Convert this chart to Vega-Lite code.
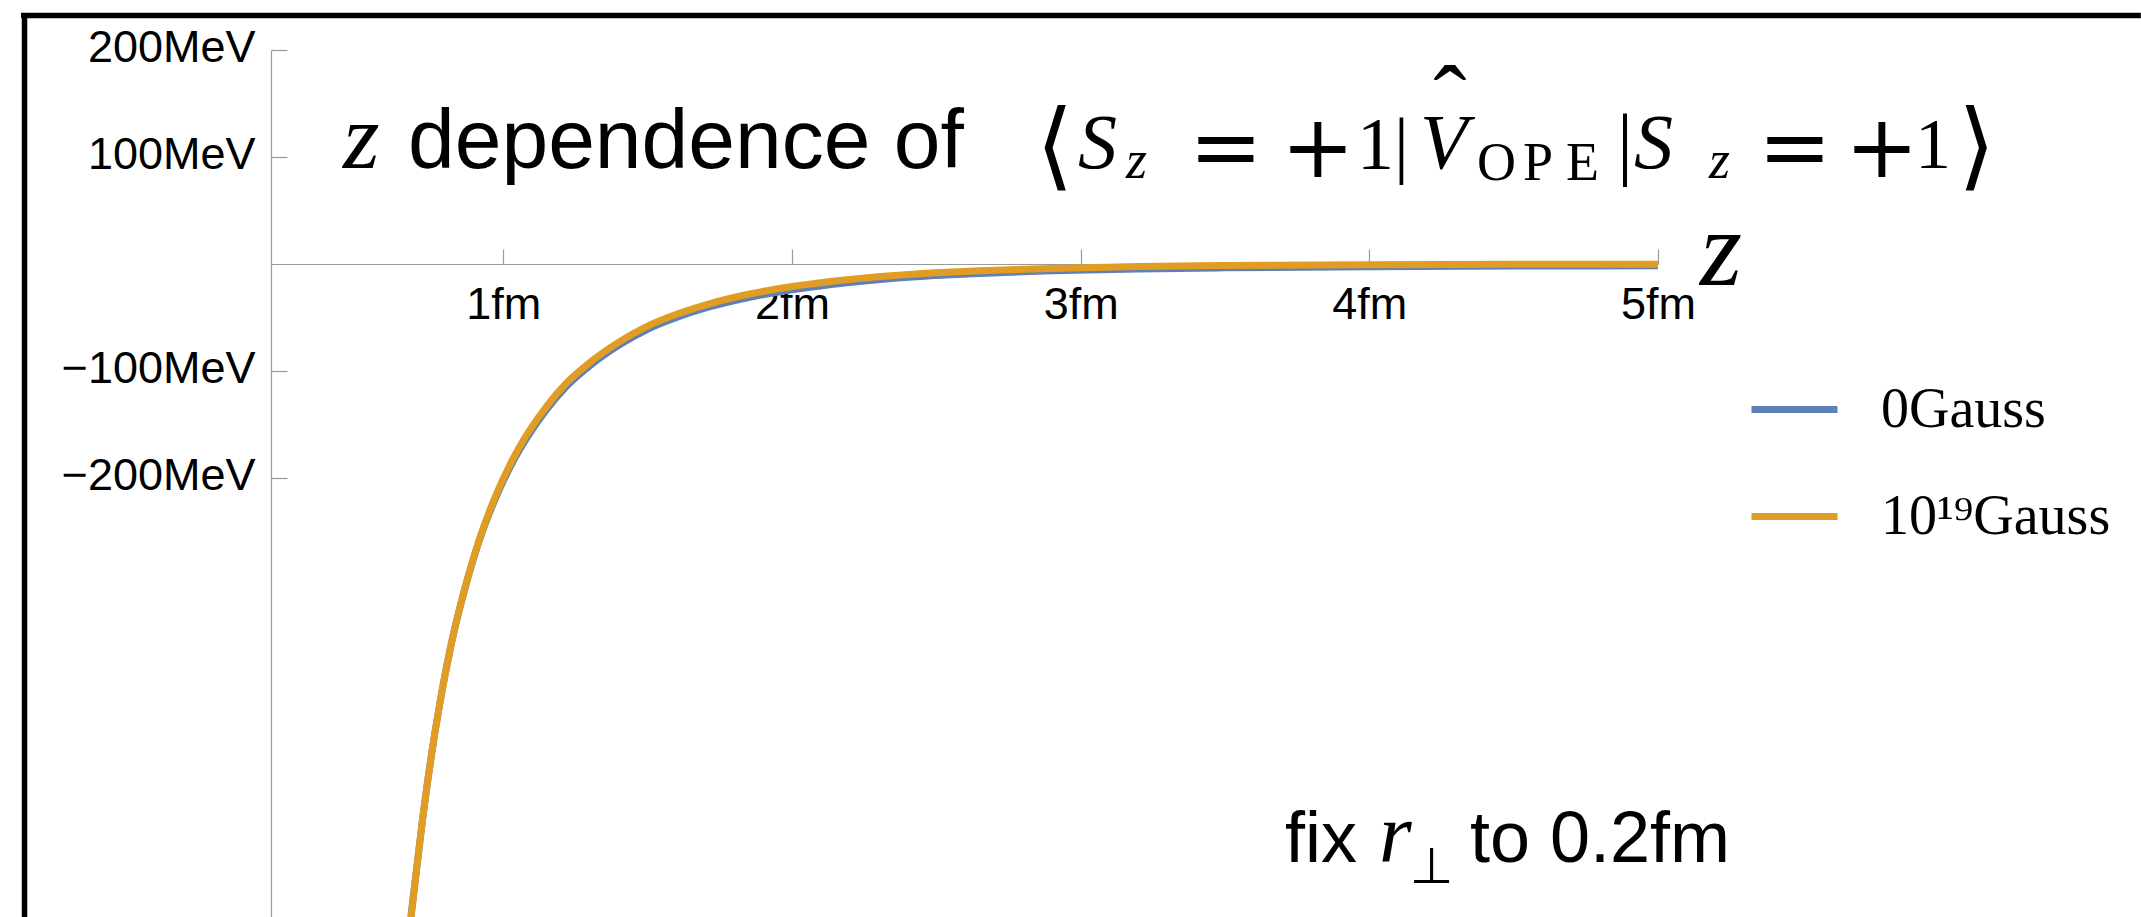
{
  "$schema": "https://vega.github.io/schema/vega-lite/v6.json",
  "autosize": {"type": "none"},
  "width": 1387,
  "height": 867,
  "padding": {"left": 271, "top": 50, "right": 483, "bottom": 0},
  "background": "white",
  "config": {"view": {"stroke": null}, "font": "Liberation Sans"},
  "data": {"values": [{}]},
  "datasets": {
    "curves": [
      {"z": 0.68, "V": -610, "series": "0Gauss"},
      {"z": 0.70, "V": -565, "series": "0Gauss"},
      {"z": 0.72, "V": -520, "series": "0Gauss"},
      {"z": 0.75, "V": -461, "series": "0Gauss"},
      {"z": 0.78, "V": -411, "series": "0Gauss"},
      {"z": 0.82, "V": -355, "series": "0Gauss"},
      {"z": 0.87, "V": -300.5, "series": "0Gauss"},
      {"z": 0.92, "V": -256, "series": "0Gauss"},
      {"z": 0.97, "V": -221, "series": "0Gauss"},
      {"z": 1.03, "V": -186.5, "series": "0Gauss"},
      {"z": 1.09, "V": -159, "series": "0Gauss"},
      {"z": 1.15, "V": -136, "series": "0Gauss"},
      {"z": 1.22, "V": -114, "series": "0Gauss"},
      {"z": 1.30, "V": -95, "series": "0Gauss"},
      {"z": 1.40, "V": -76, "series": "0Gauss"},
      {"z": 1.50, "V": -61, "series": "0Gauss"},
      {"z": 1.60, "V": -50, "series": "0Gauss"},
      {"z": 1.72, "V": -39.7, "series": "0Gauss"},
      {"z": 1.85, "V": -31.3, "series": "0Gauss"},
      {"z": 2.00, "V": -24.1, "series": "0Gauss"},
      {"z": 2.20, "V": -17.2, "series": "0Gauss"},
      {"z": 2.43, "V": -11.9, "series": "0Gauss"},
      {"z": 2.65, "V": -8.8, "series": "0Gauss"},
      {"z": 2.90, "V": -6.4, "series": "0Gauss"},
      {"z": 3.20, "V": -4.6, "series": "0Gauss"},
      {"z": 3.50, "V": -3.55, "series": "0Gauss"},
      {"z": 4.00, "V": -2.5, "series": "0Gauss"},
      {"z": 4.50, "V": -1.97, "series": "0Gauss"},
      {"z": 5.00, "V": -1.72, "series": "0Gauss"},
      {"z": 0.68, "V": -612, "series": "10¹⁹Gauss"},
      {"z": 0.70, "V": -565, "series": "10¹⁹Gauss"},
      {"z": 0.72, "V": -520, "series": "10¹⁹Gauss"},
      {"z": 0.75, "V": -461, "series": "10¹⁹Gauss"},
      {"z": 0.78, "V": -411, "series": "10¹⁹Gauss"},
      {"z": 0.82, "V": -355, "series": "10¹⁹Gauss"},
      {"z": 0.87, "V": -300, "series": "10¹⁹Gauss"},
      {"z": 0.92, "V": -255, "series": "10¹⁹Gauss"},
      {"z": 0.97, "V": -219, "series": "10¹⁹Gauss"},
      {"z": 1.03, "V": -184, "series": "10¹⁹Gauss"},
      {"z": 1.09, "V": -156, "series": "10¹⁹Gauss"},
      {"z": 1.15, "V": -133, "series": "10¹⁹Gauss"},
      {"z": 1.22, "V": -111, "series": "10¹⁹Gauss"},
      {"z": 1.30, "V": -92, "series": "10¹⁹Gauss"},
      {"z": 1.40, "V": -73, "series": "10¹⁹Gauss"},
      {"z": 1.50, "V": -58, "series": "10¹⁹Gauss"},
      {"z": 1.60, "V": -47, "series": "10¹⁹Gauss"},
      {"z": 1.72, "V": -36.7, "series": "10¹⁹Gauss"},
      {"z": 1.85, "V": -28.3, "series": "10¹⁹Gauss"},
      {"z": 2.00, "V": -21.1, "series": "10¹⁹Gauss"},
      {"z": 2.20, "V": -14.5, "series": "10¹⁹Gauss"},
      {"z": 2.43, "V": -9.4, "series": "10¹⁹Gauss"},
      {"z": 2.65, "V": -6.4, "series": "10¹⁹Gauss"},
      {"z": 2.90, "V": -4.1, "series": "10¹⁹Gauss"},
      {"z": 3.20, "V": -2.4, "series": "10¹⁹Gauss"},
      {"z": 3.50, "V": -1.45, "series": "10¹⁹Gauss"},
      {"z": 4.00, "V": -0.62, "series": "10¹⁹Gauss"},
      {"z": 4.50, "V": -0.27, "series": "10¹⁹Gauss"},
      {"z": 5.00, "V": -0.12, "series": "10¹⁹Gauss"}
    ]
  },
  "layer": [
    {
      "data": {"name": "curves"},
      "mark": {"type": "line", "strokeWidth": 7, "clip": true, "interpolate": "monotone", "strokeCap": "butt"},
      "encoding": {
        "x": {
          "field": "z", "type": "quantitative",
          "scale": {"domain": [0.1954, 5.0], "nice": false, "zero": false},
          "axis": {
            "orient": "bottom", "offset": -653, "values": [1, 2, 3, 4, 5],
            "labelExpr": "datum.value + 'fm'", "title": null, "grid": false,
            "domainColor": "#9a9a9a", "domainWidth": 1.2,
            "tickColor": "#9a9a9a", "tickWidth": 1.2, "tickSize": -15,
            "labelFont": "Liberation Sans", "labelFontSize": 45, "labelColor": "black",
            "labelBaseline": "alphabetic", "labelPadding": 69, "labelFlush": false,
            "labelOverlap": false, "labelLimit": 400
          }
        },
        "y": {
          "field": "V", "type": "quantitative",
          "scale": {"domain": [-610.28, 200], "nice": false, "zero": false},
          "axis": {
            "orient": "left", "values": [-200, -100, 100, 200],
            "labelExpr": "(datum.value < 0 ? '−' + (-datum.value) : '' + datum.value) + 'MeV'",
            "title": null, "grid": false,
            "domainColor": "#9a9a9a", "domainWidth": 1.2,
            "tickColor": "#9a9a9a", "tickWidth": 1.2, "tickSize": -16,
            "labelFont": "Liberation Sans", "labelFontSize": 45, "labelColor": "black",
            "labelBaseline": "alphabetic", "labelOffset": 11, "labelPadding": 32,
            "labelFlush": false, "labelOverlap": false, "labelLimit": 400
          }
        },
        "color": {
          "field": "series", "type": "nominal",
          "scale": {"domain": ["0Gauss", "10¹⁹Gauss"], "range": ["#5E81B5", "#E19C24"]},
          "legend": {
            "title": null, "orient": "none", "legendX": 1477, "legendY": 313, "padding": 0,
            "symbolType": "stroke", "symbolSize": 7396, "symbolStrokeWidth": 7,
            "labelFont": "Liberation Serif", "labelFontSize": 56, "labelColor": "black",
            "labelOffset": 40, "labelLimit": 600, "rowPadding": 32
          }
        }
      }
    },
    {
      "mark": {"type": "rule", "color": "black", "strokeWidth": 5.5},
      "encoding": {
        "x": {"datum": -0.6705, "type": "quantitative"},
        "x2": {"datum": 6.6726},
        "y": {"datum": 232.24, "type": "quantitative"}
      }
    },
    {
      "mark": {"type": "rule", "color": "black", "strokeWidth": 5.5},
      "encoding": {
        "x": {"datum": -0.6584, "type": "quantitative"},
        "y": {"datum": 234.6, "type": "quantitative"},
        "y2": {"datum": -610.28}
      }
    },
    {
      "mark": {"type": "text", "font": "Liberation Serif", "fontStyle": "italic", "fontSize": 94, "align": "left", "baseline": "alphabetic", "color": "black"},
      "encoding": {
        "x": {"datum": 0.4448, "type": "quantitative"},
        "y": {"datum": 89.72, "type": "quantitative"},
        "text": {"value": "z"}
      }
    },
    {
      "mark": {"type": "text", "font": "Liberation Sans", "fontSize": 84, "align": "left", "baseline": "alphabetic", "color": "black"},
      "encoding": {
        "x": {"datum": 0.6699, "type": "quantitative"},
        "y": {"datum": 89.72, "type": "quantitative"},
        "text": {"value": "dependence of"}
      }
    },
    {
      "mark": {"type": "text", "font": "DejaVu Sans", "fontSize": 96, "align": "left", "baseline": "alphabetic", "color": "black"},
      "encoding": {
        "x": {"datum": 2.8453, "type": "quantitative"},
        "y": {"datum": 80.5, "type": "quantitative"},
        "text": {"value": "⟨"}
      }
    },
    {
      "mark": {"type": "text", "font": "Liberation Serif", "fontStyle": "italic", "fontSize": 78, "align": "left", "baseline": "alphabetic", "color": "black"},
      "encoding": {
        "x": {"datum": 2.9907, "type": "quantitative"},
        "y": {"datum": 89.72, "type": "quantitative"},
        "text": {"value": "S"}
      }
    },
    {
      "mark": {"type": "text", "font": "Liberation Serif", "fontStyle": "italic", "fontSize": 54, "align": "left", "baseline": "alphabetic", "color": "black"},
      "encoding": {
        "x": {"datum": 3.157, "type": "quantitative"},
        "y": {"datum": 80.37, "type": "quantitative"},
        "text": {"value": "z"}
      }
    },
    {
      "mark": {"type": "text", "font": "DejaVu Serif", "fontSize": 88, "align": "left", "baseline": "alphabetic", "color": "black"},
      "encoding": {
        "x": {"datum": 3.3752, "type": "quantitative"},
        "y": {"datum": 81.31, "type": "quantitative"},
        "text": {"value": "="}
      }
    },
    {
      "mark": {"type": "text", "font": "DejaVu Serif", "fontSize": 88, "align": "left", "baseline": "alphabetic", "color": "black"},
      "encoding": {
        "x": {"datum": 3.6939, "type": "quantitative"},
        "y": {"datum": 81.31, "type": "quantitative"},
        "text": {"value": "+"}
      }
    },
    {
      "mark": {"type": "text", "font": "Liberation Serif", "fontSize": 74, "align": "left", "baseline": "alphabetic", "color": "black"},
      "encoding": {
        "x": {"datum": 3.9571, "type": "quantitative"},
        "y": {"datum": 88.5, "type": "quantitative"},
        "text": {"value": "1|"}
      }
    },
    {
      "mark": {"type": "text", "font": "Liberation Serif", "fontStyle": "italic", "fontSize": 78, "align": "left", "baseline": "alphabetic", "color": "black"},
      "encoding": {
        "x": {"datum": 4.1753, "type": "quantitative"},
        "y": {"datum": 89.72, "type": "quantitative"},
        "text": {"value": "V"}
      }
    },
    {
      "mark": {"type": "text", "font": "Liberation Serif", "fontSize": 100, "align": "center", "baseline": "alphabetic", "color": "black"},
      "encoding": {
        "x": {"datum": 4.2792, "type": "quantitative"},
        "y": {"datum": 121, "type": "quantitative"},
        "text": {"value": "ˆ"}
      }
    },
    {
      "mark": {"type": "text", "font": "Liberation Serif", "fontSize": 54, "align": "left", "baseline": "alphabetic", "color": "black"},
      "encoding": {
        "x": {"datum": 4.3727, "type": "quantitative"},
        "y": {"datum": 78.5, "type": "quantitative"},
        "text": {"value": "O"}
      }
    },
    {
      "mark": {"type": "text", "font": "Liberation Serif", "fontSize": 54, "align": "left", "baseline": "alphabetic", "color": "black"},
      "encoding": {
        "x": {"datum": 4.5321, "type": "quantitative"},
        "y": {"datum": 78.5, "type": "quantitative"},
        "text": {"value": "P"}
      }
    },
    {
      "mark": {"type": "text", "font": "Liberation Serif", "fontSize": 54, "align": "left", "baseline": "alphabetic", "color": "black"},
      "encoding": {
        "x": {"datum": 4.6811, "type": "quantitative"},
        "y": {"datum": 78.5, "type": "quantitative"},
        "text": {"value": "E"}
      }
    },
    {
      "mark": {"type": "text", "font": "Liberation Serif", "fontSize": 80, "align": "left", "baseline": "alphabetic", "color": "black"},
      "encoding": {
        "x": {"datum": 4.8577, "type": "quantitative"},
        "y": {"datum": 87.85, "type": "quantitative"},
        "text": {"value": "|"}
      }
    },
    {
      "mark": {"type": "text", "font": "Liberation Serif", "fontStyle": "italic", "fontSize": 78, "align": "left", "baseline": "alphabetic", "color": "black"},
      "encoding": {
        "x": {"datum": 4.9166, "type": "quantitative"},
        "y": {"datum": 89.72, "type": "quantitative"},
        "text": {"value": "S"}
      }
    },
    {
      "mark": {"type": "text", "font": "Liberation Serif", "fontStyle": "italic", "fontSize": 54, "align": "left", "baseline": "alphabetic", "color": "black"},
      "encoding": {
        "x": {"datum": 5.1764, "type": "quantitative"},
        "y": {"datum": 80.37, "type": "quantitative"},
        "text": {"value": "z"}
      }
    },
    {
      "mark": {"type": "text", "font": "DejaVu Serif", "fontSize": 88, "align": "left", "baseline": "alphabetic", "color": "black"},
      "encoding": {
        "x": {"datum": 5.3461, "type": "quantitative"},
        "y": {"datum": 81.31, "type": "quantitative"},
        "text": {"value": "="}
      }
    },
    {
      "mark": {"type": "text", "font": "DejaVu Serif", "fontSize": 88, "align": "left", "baseline": "alphabetic", "color": "black"},
      "encoding": {
        "x": {"datum": 5.6474, "type": "quantitative"},
        "y": {"datum": 81.31, "type": "quantitative"},
        "text": {"value": "+"}
      }
    },
    {
      "mark": {"type": "text", "font": "Liberation Serif", "fontSize": 72, "align": "left", "baseline": "alphabetic", "color": "black"},
      "encoding": {
        "x": {"datum": 5.8899, "type": "quantitative"},
        "y": {"datum": 89.72, "type": "quantitative"},
        "text": {"value": "1"}
      }
    },
    {
      "mark": {"type": "text", "font": "DejaVu Sans", "fontSize": 96, "align": "left", "baseline": "alphabetic", "color": "black"},
      "encoding": {
        "x": {"datum": 6.0388, "type": "quantitative"},
        "y": {"datum": 80.5, "type": "quantitative"},
        "text": {"value": "⟩"}
      }
    },
    {
      "mark": {"type": "text", "font": "Liberation Serif", "fontStyle": "italic", "fontSize": 108, "align": "left", "baseline": "alphabetic", "color": "black"},
      "encoding": {
        "x": {"datum": 5.1452, "type": "quantitative"},
        "y": {"datum": -19.6, "type": "quantitative"},
        "text": {"value": "z"}
      }
    },
    {
      "mark": {"type": "text", "font": "Liberation Sans", "fontSize": 72, "align": "left", "baseline": "alphabetic", "color": "black"},
      "encoding": {
        "x": {"datum": 3.7077, "type": "quantitative"},
        "y": {"datum": -558.88, "type": "quantitative"},
        "text": {"value": "fix"}
      }
    },
    {
      "mark": {"type": "text", "font": "Liberation Serif", "fontStyle": "italic", "fontSize": 84, "align": "left", "baseline": "alphabetic", "color": "black"},
      "encoding": {
        "x": {"datum": 4.0333, "type": "quantitative"},
        "y": {"datum": -558.88, "type": "quantitative"},
        "text": {"value": "r"}
      }
    },
    {
      "mark": {"type": "text", "font": "DejaVu Sans", "fontSize": 50, "align": "left", "baseline": "alphabetic", "color": "black"},
      "encoding": {
        "x": {"datum": 4.1407, "type": "quantitative"},
        "y": {"datum": -578.5, "type": "quantitative"},
        "text": {"value": "⊥"}
      }
    },
    {
      "mark": {"type": "text", "font": "Liberation Sans", "fontSize": 72, "align": "left", "baseline": "alphabetic", "color": "black"},
      "encoding": {
        "x": {"datum": 4.3484, "type": "quantitative"},
        "y": {"datum": -558.88, "type": "quantitative"},
        "text": {"value": "to 0.2fm"}
      }
    }
  ]
}
